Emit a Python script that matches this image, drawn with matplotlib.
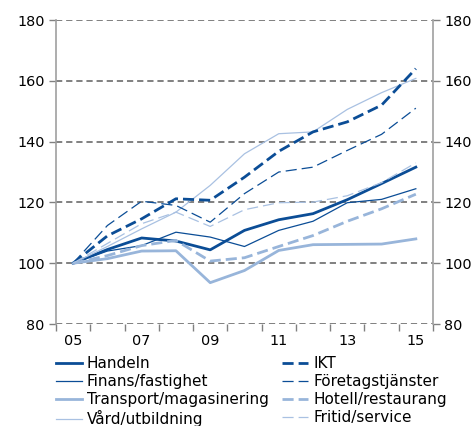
import matplotlib
matplotlib.use('Agg')
import matplotlib.pyplot as plt

# Index 2005 = 100
years = [2005, 2006, 2007, 2008, 2009, 2010, 2011, 2012, 2013, 2014, 2015]
handeln = [100, 104.5, 108.3, 107.3, 104.4, 110.8, 114.3, 116.3, 120.9, 126.2, 131.6]
finans = [100, 104.0, 105.8, 110.2, 108.6, 105.5, 110.8, 113.8, 119.9, 121.0, 124.5]
transport = [100, 101.5, 104.0, 104.1, 93.6, 97.6, 104.2, 106.1, 106.2, 106.3, 108.0]
vard = [100, 105.5, 111.3, 116.8, 125.6, 136.0, 142.6, 143.2, 150.6, 156.1, 160.8]
ikt = [100, 109.0, 114.6, 121.2, 120.7, 128.3, 136.8, 143.2, 146.5, 152.0, 164.0]
foretag = [100, 112.4, 120.4, 119.0, 113.5, 122.9, 130.0, 131.6, 137.1, 142.4, 151.0]
hotell = [100, 102.5, 105.8, 107.5, 100.7, 101.8, 105.5, 109.1, 113.8, 117.9, 122.7]
fritid = [100, 106.5, 113.0, 116.8, 112.1, 117.6, 119.9, 120.1, 122.2, 126.5, 133.0]

yticks = [80, 100, 120, 140, 160, 180]
xlabels = ['05', '07', '09', '11', '13', '15']

DARK = '#0B4D96'
LIGHT = '#98B5DA'
LIGHTER = '#A9C1E2'
GRID = '#808080'

plt.rcParams['font.family'] = 'DejaVu Sans'
plt.rcParams['font.size'] = 10.4
plt.rcParams['lines.scale_dashes'] = False

fig = plt.figure(figsize=(4.72, 4.26), dpi=100)
ax = fig.add_axes([0.1186, 0.2394, 0.7987, 0.7136])

dash = (0, (8, 3.6))
series = [
    (handeln, 'Handeln', DARK, 2.0, '-'),
    (finans, 'Finans/fastighet', DARK, 0.9, '-'),
    (transport, 'Transport/magasinering', LIGHT, 2.0, '-'),
    (vard, 'Vård/utbildning', LIGHTER, 0.9, '-'),
    (ikt, 'IKT', DARK, 2.0, dash),
    (foretag, 'Företagstjänster', DARK, 0.9, dash),
    (hotell, 'Hotell/restaurang', LIGHT, 2.0, dash),
    (fritid, 'Fritid/service', LIGHTER, 0.9, dash),
]
for vals, name, col, lw, ls in series:
    ax.plot(years, vals, color=col, linewidth=lw, linestyle=ls, label=name)

ax.set_xlim(2004.5, 2015.5)
ax.set_ylim(80, 180)
ax.set_yticks(yticks)
ax.yaxis.grid(True, color=GRID, linestyle=(0, (4.5, 2.8)), linewidth=1.4)
ax.set_axisbelow(True)

# tick marks between years, labels on odd years
ax.set_xticks([y + 0.5 for y in range(2004, 2016)])
ax.set_xticklabels([])
ax.set_xticks(years[::2], labels=xlabels, minor=True)
ax.tick_params(axis='x', which='major', direction='out', length=5, width=1, color=GRID)
ax.tick_params(axis='x', which='minor', length=0, pad=7)
ax.tick_params(axis='y', direction='out', length=5, width=1, color=GRID,
               left=True, right=True, labelleft=True, labelright=True, pad=3)

for s in ['top', 'bottom']:
    ax.spines[s].set_visible(False)
for s in ['left', 'right']:
    ax.spines[s].set_color('#a0a0a0')
    ax.spines[s].set_linewidth(1.2)

fig.legend(loc='upper left', bbox_to_anchor=(0.118, 0.164), ncol=2, frameon=False,
           fontsize=11, handlelength=1.7, handletextpad=0.33, columnspacing=0.9,
           labelspacing=0.2, borderpad=0, borderaxespad=0)

fig.savefig('out.png', dpi=100)
